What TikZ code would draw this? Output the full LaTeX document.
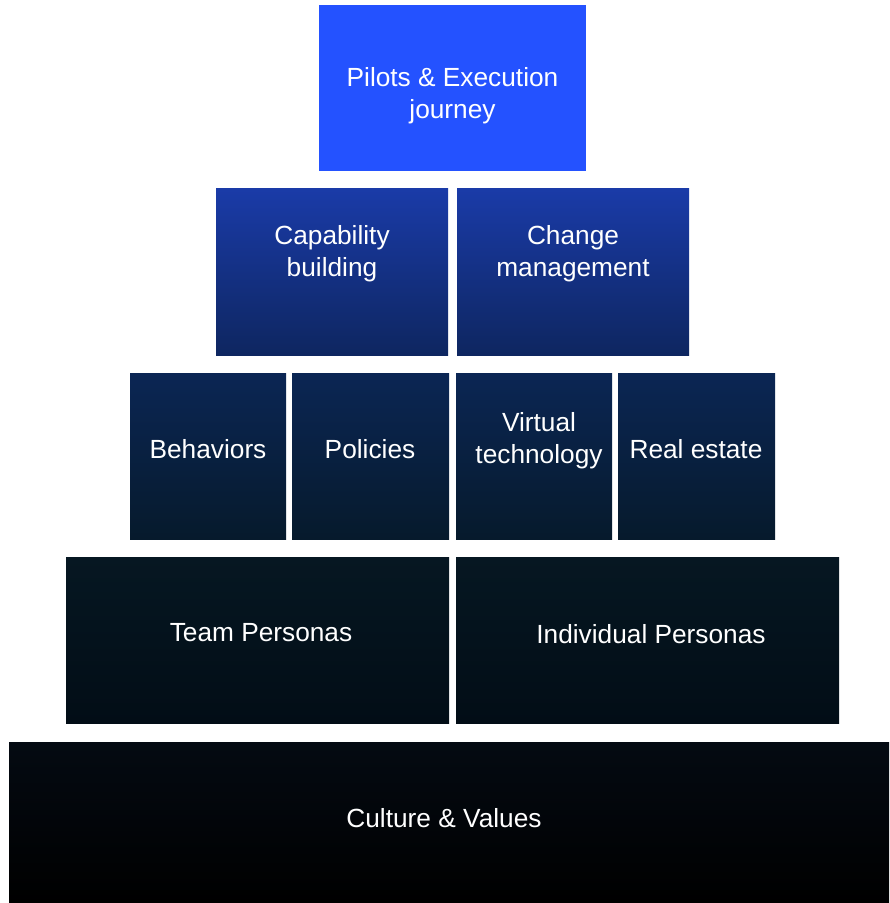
\documentclass[tikz,border=0pt]{standalone}
\usepackage{fontspec}
\setmainfont{Liberation Sans}
\usetikzlibrary{positioning, calc}

\definecolor{pilotblue}{HTML}{2452FF}
\definecolor{rowtwotop}{HTML}{1A3BA8}
\definecolor{rowtwobot}{HTML}{0E2660}
\definecolor{rowthreetop}{HTML}{0B2654}
\definecolor{rowthreebot}{HTML}{061A2C}
\definecolor{rowfourtop}{HTML}{061722}
\definecolor{rowfourbot}{HTML}{020D16}
\definecolor{basetop}{HTML}{040A12}
\definecolor{basebot}{HTML}{000000}

\begin{document}
\begin{tikzpicture}[
    x=0.75pt, y=-0.75pt,
    rowtwo/.style={top color=rowtwotop, bottom color=rowtwobot, draw=none},
    rowthree/.style={top color=rowthreetop, bottom color=rowthreebot, draw=none},
    rowfour/.style={top color=rowfourtop, bottom color=rowfourbot, draw=none},
    base/.style={top color=basetop, bottom color=basebot, draw=none},
    caption/.style={text=white, align=center, inner sep=0pt,
                 font=\fontsize{19.7}{24}\selectfont}
]
\useasboundingbox (0,0) rectangle (889,903);

% blocks, top to bottom
\fill[pilotblue] (319,5) rectangle (586,171);
\path[rowtwo] (216,188) rectangle (448,355);
\path[rowtwo] (457,188) rectangle (689,355);
\path[rowthree] (130,373) rectangle (286,539);
\path[rowthree] (292,373) rectangle (449,539);
\path[rowthree] (456,373) rectangle (612,539);
\path[rowthree] (618,373) rectangle (775,539);
\path[rowfour] (66,557) rectangle (449,723);
\path[rowfour] (456,557) rectangle (839,723);
\path[base] (9,742) rectangle (889,903);

% captions
\node[caption] (pilots) at (452.5,96) {Pilots \& Execution\\journey};
\node[caption] (capability) at (332,254) {Capability\\building};
\node[caption] (change) at (573,254) {Change\\management};
\node[caption] (behaviors) at (208,449) {Behaviors};
\node[caption] (policies) at (370,449) {Policies};
\node[caption] (virtual) at (539,441) {Virtual\\technology};
\node[caption] (realestate) at (696,449) {Real estate};
\node[caption] (team) at (261,633) {Team Personas};
\node[caption] (individual) at (651,634) {Individual Personas};
\node[caption] (culture) at (444,818) {Culture \& Values};
\end{tikzpicture}
\end{document}
